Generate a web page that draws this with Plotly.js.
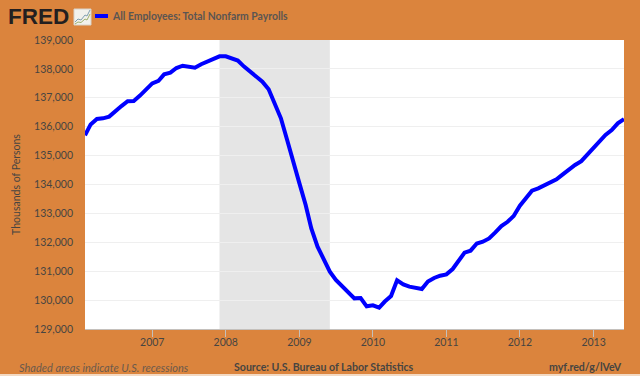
<!DOCTYPE html>
<html>
<head>
<meta charset="utf-8">
<script src="https://cdn.plot.ly/plotly-3.0.1.min.js"></script>
<style>html,body{margin:0;padding:0;background:#DB843D;overflow:hidden}#chart{width:640px;height:376px}</style>
</head>
<body>
<div id="chart"></div>
<script>
const seriesName = 'All Employees: Total Nonfarm Payrolls';
const startMonth = [2006, 2];
const payrolls = [
135700,136080,136267,136290,136350,136540,136715,136880,136890,137075,137270,
137500,137590,137810,137870,138030,138110,138080,138040,138160,138250,138340,138435,
138435,138365,138290,138080,137905,137765,137560,137295,136820,136290,135540,134850,
134040,133290,132480,131850,131445,130985,130695,130490,130270,130060,130070,129785,
129820,129740,129950,130140,130685,130545,130465,130440,130385,130640,130765,130845,
130890,131075,131350,131640,131710,131960,132020,132135,132345,132560,132710,132910,
133265,133520,133785,133865,133970,134040,134180,134350,134525,134675,134810,135045,
135275,135540,135715,135885,136115,136265
];
const recessionStart = '2007-12-01';
const recessionEnd = '2009-06-01';
const yTicks = [129000,130000,131000,132000,133000,134000,135000,136000,137000,138000,139000];
const xTicks = ['2007-01-01','2008-01-01','2009-01-01','2010-01-01','2011-01-01','2012-01-01','2013-01-01'];
const xTickLabels = ['2007','2008','2009','2010','2011','2012','2013'];

const dates = payrolls.map((_, i) => {
  const m = startMonth[1] - 1 + i;
  const y = startMonth[0] + Math.floor(m / 12);
  return y + '-' + String(m % 12 + 1).padStart(2, '0') + '-01';
});

const W = 640, H = 376, ML = 85, MR = 16, MT = 40, MB = 47;
const F = 'Lato, "Open Sans", sans-serif', TXT = '#474441';
const px = v => (v - ML) / (W - ML - MR), py = v => (H - MB - v) / (H - MT - MB);
const poly = pts => pts.map((p, i) => (i ? 'L ' : 'M ') + px(p[0]) + ' ' + py(p[1])).join(' ');

Plotly.newPlot('chart', [{
  x: dates, y: payrolls, type: 'scatter', mode: 'lines', name: seriesName,
  line: {color: '#0000FF', width: 4, shape: 'linear'}, hoverinfo: 'x+y'
}], {
  width: W, height: H,
  paper_bgcolor: '#DB843D', plot_bgcolor: '#FFFFFF',
  margin: {l: ML, r: MR, t: MT, b: MB},
  showlegend: false,
  font: {family: F, color: TXT, size: 11},
  xaxis: {
    type: 'date', range: ['2006-02-01', '2013-06-01'],
    tickmode: 'array', tickvals: xTicks, ticktext: xTickLabels,
    ticks: 'outside', ticklen: 7, tickcolor: '#c4c0bc', tickwidth: 1,
    ticklabelstandoff: -4,
    showgrid: false, showline: true, linecolor: '#c4c0bc', linewidth: 1,
    tickfont: {family: F, size: 10.5, color: TXT}, zeroline: false
  },
  yaxis: {
    range: [129000, 139000],
    tickmode: 'array', tickvals: yTicks, tickformat: ',d',
    showgrid: true, gridcolor: '#EFEFEF', gridwidth: 1, zeroline: false,
    ticks: '', ticklabelstandoff: 11, showline: false,
    tickfont: {family: F, size: 10.5, color: TXT},
    automargin: false,
    title: {text: 'Thousands of Persons', standoff: 11, font: {family: F, size: 10.5, color: TXT}}
  },
  shapes: [
    {type: 'rect', layer: 'between', xref: 'x', yref: 'paper', x0: recessionStart, x1: recessionEnd, y0: 0, y1: 1,
     fillcolor: '#E5E5E5', line: {width: 0}},
    {type: 'rect', xref: 'paper', yref: 'paper', x0: px(0), x1: px(640), y0: py(376), y1: py(374),
     fillcolor: '#F3D9C2', line: {width: 0}},
    {type: 'rect', xref: 'paper', yref: 'paper', x0: px(74), x1: px(91), y0: py(25), y1: py(9),
     fillcolor: '#F2F1EC', line: {color: '#d8d2c8', width: 1}},
    {type: 'path', xref: 'paper', yref: 'paper',
     path: poly([[75,22],[78,19],[81,20],[85,15],[87,16],[90,10]]), line: {color: '#7f9fb0', width: 1}},
    {type: 'path', xref: 'paper', yref: 'paper',
     path: poly([[75,24],[78,22],[81,22.5],[85,19],[87,20],[90,14]]), line: {color: '#9db06f', width: 1}},
    {type: 'line', xref: 'paper', yref: 'paper', x0: px(95), x1: px(108), y0: py(16), y1: py(16),
     line: {color: '#0000FF', width: 4}}
  ],
  annotations: [
    {text: '<b>FRED</b>', xref: 'paper', yref: 'paper', x: px(6), y: py(16), xanchor: 'left', yanchor: 'middle', showarrow: false,
     font: {family: 'Liberation Sans, Arial, sans-serif', size: 22.5, color: '#231f20'}},
    {text: '<b>' + seriesName + '</b>', xref: 'paper', yref: 'paper', x: px(110), y: py(16), xanchor: 'left', yanchor: 'middle', showarrow: false,
     font: {family: F, size: 10.4, color: '#5a5552'}},
    {text: '<i>Shaded areas indicate U.S. recessions</i>', xref: 'paper', yref: 'paper', x: px(17), y: py(367), xanchor: 'left', yanchor: 'middle', showarrow: false,
     font: {family: F, size: 11, color: '#6b5a4c'}},
    {text: '<b>Source: U.S. Bureau of Labor Statistics</b>', xref: 'paper', yref: 'paper', x: px(232), y: py(367), xanchor: 'left', yanchor: 'middle', showarrow: false,
     font: {family: F, size: 10.6, color: TXT}},
    {text: '<b>myf.red/g/lVeV</b>', xref: 'paper', yref: 'paper', x: px(624), y: py(367), xanchor: 'right', yanchor: 'middle', showarrow: false,
     font: {family: F, size: 10.6, color: TXT}}
  ]
}, {displayModeBar: false, staticPlot: true});
</script>
</body>
</html>
